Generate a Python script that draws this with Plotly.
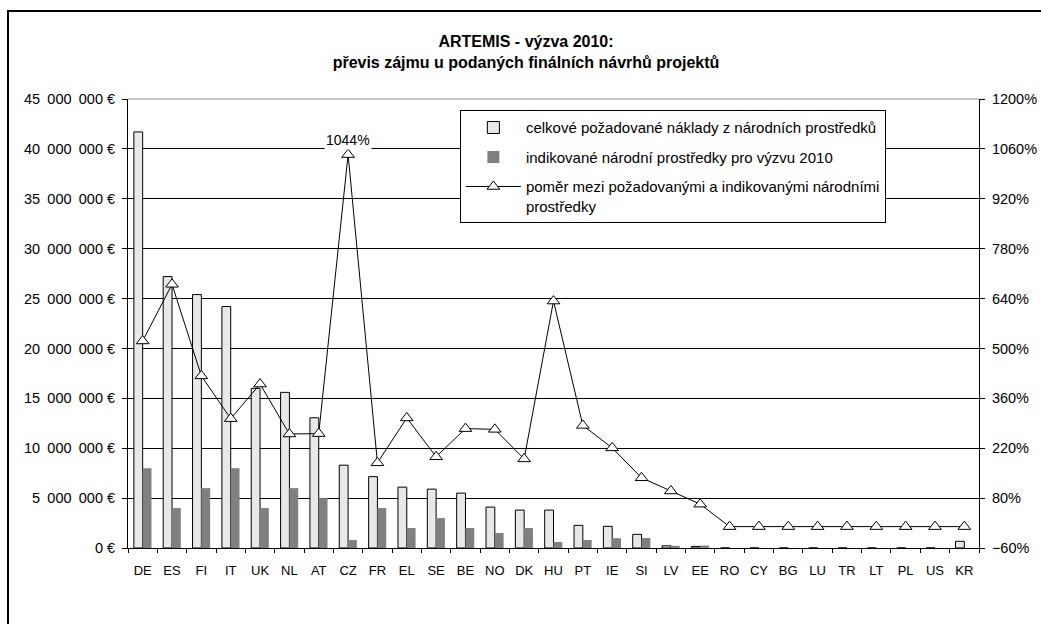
import plotly.graph_objects as go

# data
countries = ["DE", "ES", "FI", "IT", "UK", "NL", "AT", "CZ", "FR", "EL",
             "SE", "BE", "NO", "DK", "HU", "PT", "IE", "SI", "LV", "EE",
             "RO", "CY", "BG", "LU", "TR", "LT", "PL", "US", "KR"]
requested = [41.7e6, 27.2e6, 25.4e6, 24.2e6, 16.0e6, 15.6e6, 13.05e6, 8.3e6, 7.15e6, 6.1e6,
             5.9e6, 5.5e6, 4.1e6, 3.8e6, 3.8e6, 2.27e6, 2.17e6, 1.37e6, 0.22e6, 0.16e6,
             0, 0, 0, 0, 0, 0, 0, 0, 0.67e6]
indicated = [8.0e6, 4.0e6, 6.0e6, 8.0e6, 4.0e6, 6.0e6, 5.0e6, 0.795e6, 4.0e6, 2.0e6,
             3.0e6, 2.0e6, 1.5e6, 2.0e6, 0.6e6, 0.8e6, 0.98e6, 1.0e6, 0.22e6, 0.25e6,
             0, 0, 0, 0, 0, 0, 0, 0, 0]
ratio_pct = [521, 680, 423, 303, 400, 260, 261, 1044, 179, 305,
             196, 275, 273, 190, 633, 284, 221, 137, 100, 63,
             0, 0, 0, 0, 0, 0, 0, 0, 0]

label_requested = "celkové požadované náklady z národních prostředků"
label_indicated = "indikované národní prostředky pro výzvu 2010"
label_ratio = "poměr mezi požadovanými a indikovanými národními<br>prostředky"

FONT = "Arial, Liberation Sans, sans-serif"

fig = go.Figure()

fig.add_trace(go.Bar(
    x=countries, y=requested, name=label_requested,
    marker=dict(color="#E8E8E8", line=dict(color="black", width=1)),
    legendgroup="a", yaxis="y"
))
fig.add_trace(go.Bar(
    x=countries, y=indicated, name=label_indicated,
    marker=dict(color="#808080", line=dict(color="#808080", width=0)),
    legendgroup="b", yaxis="y"
))
fig.add_trace(go.Scatter(
    x=countries, y=ratio_pct, name=label_ratio, yaxis="y2",
    mode="lines+markers",
    line=dict(color="black", width=1),
    marker=dict(symbol="triangle-up", size=11, color="white",
                line=dict(color="black", width=1)),
    legendgroup="c"
))

# only the CZ point carries a data label
i_max = ratio_pct.index(max(ratio_pct))
fig.add_annotation(
    x=countries[i_max], y=ratio_pct[i_max], xref="x", yref="y2",
    text=f"{ratio_pct[i_max]}%", showarrow=False, yshift=15,
    bgcolor="white", font=dict(size=14, color="black", family=FONT)
)

fig.update_layout(
    width=1041, height=624,
    margin=dict(l=128, r=62, t=99, b=76),
    paper_bgcolor="white", plot_bgcolor="white",
    font=dict(family=FONT, size=14, color="black"),
    separators=",\u2002",
    barmode="group", bargap=0.4, bargroupgap=0,
    title=dict(
        text="<b>ARTEMIS - výzva 2010:<br>převis zájmu u podaných finálních návrhů projektů</b>",
        x=526 / 1041, xanchor="center", xref="container",
        y=1 - 47 / 624, yanchor="top", yref="container",
        font=dict(size=16, color="black", family=FONT)
    ),
    legend=dict(
        x=0.39, y=0.975, xanchor="left", yanchor="top",
        bgcolor="white", bordercolor="black", borderwidth=1,
        font=dict(size=15, color="black", family=FONT),
        traceorder="grouped", tracegroupgap=7, valign="top", itemwidth=55
    ),
    xaxis=dict(
        type="category", range=[-0.5, len(countries) - 0.5], automargin=False,
        showline=True, linecolor="black", linewidth=1,
        ticks="outside", tickson="boundaries", ticklen=4, tickcolor="black",
        tickangle=0, ticklabelstandoff=10, tickfont=dict(size=13), showgrid=False
    ),
    yaxis=dict(
        range=[0, 45e6], tick0=0, dtick=5e6, tickformat=",.0f", ticksuffix=" €",
        automargin=False, tickfont=dict(size=14.5),
        showgrid=True, gridcolor="black", gridwidth=1, zeroline=False,
        showline=True, linecolor="black", linewidth=1,
        ticks="outside", ticklen=5, tickcolor="black", ticklabelstandoff=4
    ),
    yaxis2=dict(
        range=[-60, 1200], tick0=-60, dtick=140, ticksuffix="%",
        automargin=False, tickfont=dict(size=14.5),
        overlaying="y", side="right", showgrid=False, zeroline=False,
        showline=True, linecolor="black", linewidth=1,
        ticks="outside", ticklen=5, tickcolor="black", ticklabelstandoff=4
    ),
    shapes=[
        # outer chart frame
        dict(type="rect", xref="paper", yref="paper",
             x0=-120 / 851, x1=1.2, y0=-0.3, y1=(548 - 11) / 449,
             line=dict(color="black", width=2), fillcolor="rgba(0,0,0,0)"),
        # grey top edge of the plot area
        dict(type="line", xref="paper", yref="paper", x0=0, x1=1, y0=1, y1=1,
             line=dict(color="#909090", width=1)),
    ],
)

fig.write_html("out.html", config={"displayModeBar": False},
               post_script="document.body.style.margin='0';document.body.style.overflow='hidden';")
